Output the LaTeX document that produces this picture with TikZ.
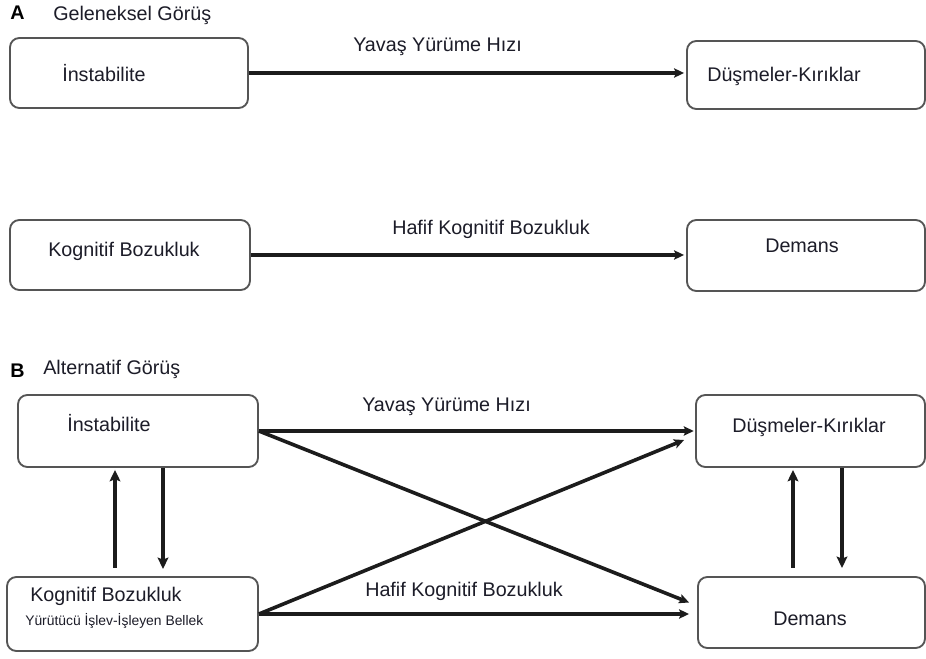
\documentclass[tikz,border=0pt]{standalone}
\usepackage{fontspec}
\setmainfont{Liberation Sans}
\usetikzlibrary{arrows.meta,fit}
\definecolor{txt}{RGB}{28,28,40}
\definecolor{edge}{RGB}{85,85,85}
\definecolor{ink}{RGB}{28,28,28}
\begin{document}
\begin{tikzpicture}[x=0.75pt,y=-0.75pt,
  box/.style={draw=edge,line width=1.4pt,rounded corners=7pt,inner sep=0pt,fill=white},
  lbl/.style={anchor=base west,inner sep=0pt,text=txt,font=\fontsize{14.8}{17}\selectfont},
  small/.style={anchor=base west,inner sep=0pt,text=txt,font=\fontsize{10.4}{12}\selectfont},
  head/.style={anchor=base west,inner sep=0pt,text=black,font=\fontsize{14.8}{17}\selectfont\bfseries},
  harr/.style={draw=ink,line width=2.5pt,-{Stealth[length=7.5pt,width=7pt,inset=1.5pt]}},
  darr/.style={harr,line width=2.7pt},
  varr/.style={draw=ink,line width=3.4pt,-{Stealth[length=8.5pt,width=8pt,inset=1.5pt]}}]
\useasboundingbox[fill=white] (0,0) rectangle (926,659);

% ---------- A ----------
\node[head] (hA) at (10,20) {A};
\node[lbl] (hAt) at (53,21) {Geleneksel Görüş};

\node[box, fit={(10,38)(248,108)}] (i1) {};
\node[lbl] (i1t) at (62,82) {İnstabilite};
\node[box, fit={(687,41)(925,109)}] (d1) {};
\node[lbl] (d1t) at (707,82) {Düşmeler-Kırıklar};

\node[box, fit={(10,220)(250,290)}] (k1) {};
\node[lbl] (k1t) at (48,257) {Kognitif Bozukluk};
\node[box, fit={(687,220)(925,291)}] (d2) {};
\node[lbl] (d2t) at (765,253) {Demans};

\draw[harr, shorten >=1.5pt] (i1.east) -- (i1.east -| d1.west);
\node[lbl] (y1) at (353,52) {Yavaş Yürüme Hızı};
\draw[harr, shorten >=1.5pt] (k1.east) -- (k1.east -| d2.west);
\node[lbl] (h1) at (392,235) {Hafif Kognitif Bozukluk};

% ---------- B ----------
\node[head] (hB) at (10,378) {B};
\node[lbl] (hBt) at (43,375) {Alternatif Görüş};

\node[box, fit={(18,395)(258,467)}] (i2) {};
\node[lbl] (i2t) at (67,432) {İnstabilite};
\node[box, fit={(696,395)(925,467)}] (d3) {};
\node[lbl] (d3t) at (732,433) {Düşmeler-Kırıklar};

\node[box, fit={(7,577)(258,651)}] (k2) {};
\node[lbl] (k2t) at (30,602) {Kognitif Bozukluk};
\node[small] (k2s) at (25,626) {Yürütücü İşlev-İşleyen Bellek};
\node[box, fit={(698,577)(925,648)}] (d4) {};
\node[lbl] (d4t) at (773,626) {Demans};

\draw[harr, shorten >=1pt] (i2.east) -- (i2.east -| d3.west);
\node[lbl] (y2) at (362,412) {Yavaş Yürüme Hızı};
\draw[darr] (i2.east) -- ([shift={(-8,-10)}]d4.west);
\draw[darr] (k2.east) -- ([shift={(-11,9)}]d3.west);
\draw[harr, shorten >=6pt] (k2.east) -- (k2.east -| d4.west);
\node[lbl] (h2) at (365,597) {Hafif Kognitif Bozukluk};

\coordinate (lu) at (115,568);
\coordinate (ld) at (163,569);
\draw[varr, shorten >=1.5pt] (lu) -- (lu |- i2.south);
\draw[varr] (ld |- i2.south) -- (ld);

\coordinate (ru) at (793,568);
\coordinate (rd) at (842,568);
\draw[varr, shorten >=1.5pt] (ru) -- (ru |- d3.south);
\draw[varr] (rd |- d3.south) -- (rd);
\end{tikzpicture}
\end{document}
